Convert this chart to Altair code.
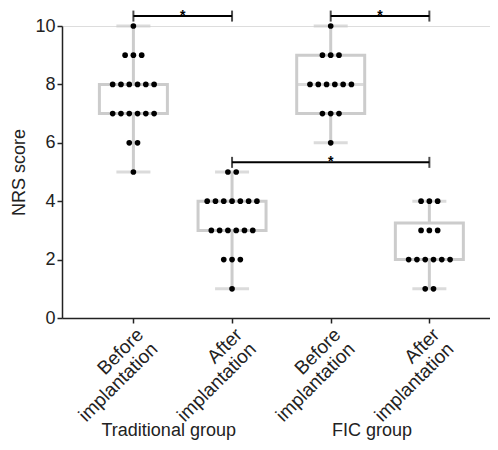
import altair as alt
import numpy as np
import pandas as pd

# ---- data ----
categories = ["Before\nimplantation", "After\nimplantation", "Before\nimplantation", "After\nimplantation"]
groups = ["Traditional group", "FIC group"]
trad_before = [10, 9, 9, 9, 8, 8, 8, 8, 8, 8, 7, 7, 7, 7, 7, 7, 6, 6, 5]
trad_after = [5, 5, 4, 4, 4, 4, 4, 4, 4, 3, 3, 3, 3, 3, 3, 2, 2, 2, 1]
fic_before = [10, 9, 9, 9, 8, 8, 8, 8, 8, 8, 7, 7, 7, 6]
fic_after = [4, 4, 4, 3, 3, 3, 2, 2, 2, 2, 2, 2, 1, 1]
# significance comparisons: (from category, to category, bar level)
sig_from = [0, 2, 1]
sig_to = [1, 3, 3]
sig_level = [10.34, 10.34, 5.33]
sig_text = ["*", "*", "*"]

series = [trad_before, trad_after, fic_before, fic_after]

# ---- build tables ----
dot_step = 0.084  # horizontal spacing of dots (category units)
dots = []
stats = []
for ci, vals in enumerate(series):
    arr = np.array(vals, dtype=float)
    q1, med, q3 = np.percentile(arr, [25, 50, 75], method="weibull")
    stats.append(dict(pos=ci, lo=arr.min(), q1=q1, med=med, q3=q3, hi=arr.max()))
    for v in sorted(set(vals)):
        n = vals.count(v)
        for i in range(n):
            dots.append(dict(pos=ci + (i - (n - 1) / 2) * dot_step, v=v))
dots = pd.DataFrame(dots)
stats = pd.DataFrame(stats)
sig = pd.DataFrame(dict(a=sig_from, b=sig_to, y=sig_level, t=sig_text))
sig["mid"] = (sig["a"] + sig["b"]) / 2
ends = pd.concat([sig[["a", "y"]].rename(columns={"a": "x"}),
                  sig[["b", "y"]].rename(columns={"b": "x"})])
grp = pd.DataFrame(dict(g=groups, x=[0.5, 2.5]))

FONT = "Liberation Sans"
GRAY = "#cccccc"
INK = "#222222"

lab_arr = "[" + ",".join("[" + ",".join("'" + p + "'" for p in c.split("\n")) + "]" for c in categories) + "]"

xscale = alt.Scale(domain=[-0.673, 3.564], nice=False, zero=False)
yscale = alt.Scale(domain=[0, 10], nice=False)

xaxis = alt.Axis(values=[0, 1, 2, 3], labelExpr=lab_arr + "[datum.value]", title=None,
                 labelAngle=-45, labelAlign="right", labelBaseline="top",
                 labelFontSize=19, labelFont=FONT, labelColor=INK,
                 labelLineHeight=20, labelPadding=2, labelFlush=False, labelOverlap=False,
                 domainColor=INK, domainWidth=1.5, tickColor=INK,
                 tickWidth=1.5, tickSize=5, grid=False)
yaxis = alt.Axis(values=[0, 2, 4, 6, 8, 10], title="NRS score", titleFont=FONT,
                 titleFontSize=18, titleFontWeight="normal", titleColor=INK,
                 titlePadding=6, labelFontSize=18, labelFont=FONT, labelColor=INK,
                 labelPadding=2, domainColor=INK, domainWidth=1.5,
                 tickColor=INK, tickWidth=1.5, tickSize=5, grid=False)

base_x = alt.X("pos:Q", scale=xscale, axis=xaxis)

whisker = alt.Chart(stats).mark_rule(color=GRAY, strokeWidth=3).encode(
    x=base_x, y=alt.Y("lo:Q", scale=yscale, axis=yaxis), y2="hi:Q")
box = alt.Chart(stats).mark_bar(size=68, fill="white", stroke=GRAY, strokeWidth=3).encode(
    x="pos:Q", y="q1:Q", y2="q3:Q")
median = alt.Chart(stats).mark_tick(orient="horizontal", size=66, thickness=3, color=GRAY).encode(
    x="pos:Q", y="med:Q")
cap_lo = alt.Chart(stats).mark_tick(orient="horizontal", size=34, thickness=3, color=GRAY).encode(
    x="pos:Q", y="lo:Q")
cap_hi = alt.Chart(stats).mark_tick(orient="horizontal", size=34, thickness=3, color=GRAY).encode(
    x="pos:Q", y="hi:Q")
pts = alt.Chart(dots).mark_circle(size=32, color="black", opacity=1).encode(
    x="pos:Q", y="v:Q")
bars = alt.Chart(sig).mark_rule(color="black", strokeWidth=2).encode(
    x="a:Q", x2="b:Q", y="y:Q")
endticks = alt.Chart(ends).mark_tick(orient="vertical", size=11, thickness=2, color="black").encode(
    x="x:Q", y="y:Q")
stars = alt.Chart(sig).mark_text(fontSize=14, font=FONT, fontWeight="bold", fill="black",
                                 baseline="alphabetic", dy=4).encode(
    x="mid:Q", y="y:Q", text="t:N")
g1 = alt.Chart(grp.iloc[[0]]).mark_text(fontSize=18, font=FONT, fill=INK, baseline="alphabetic", dx=-14).encode(
    x="x:Q", y=alt.value(410), text="g:N")
g2 = alt.Chart(grp.iloc[[1]]).mark_text(fontSize=18, font=FONT, fill=INK, baseline="alphabetic", dx=-8).encode(
    x="x:Q", y=alt.value(410), text="g:N")

chart = alt.layer(whisker, box, median, cap_lo, cap_hi, pts, bars, endticks, stars, g1, g2).properties(
    width=428, height=292,
    autosize=alt.AutoSizeParams(type="none"),
    padding={"left": 54, "top": 18, "right": 0, "bottom": 124},
).configure_view(stroke=None).configure(background="white")

chart.save("out.html", embed_options={"renderer": "svg", "actions": False})
